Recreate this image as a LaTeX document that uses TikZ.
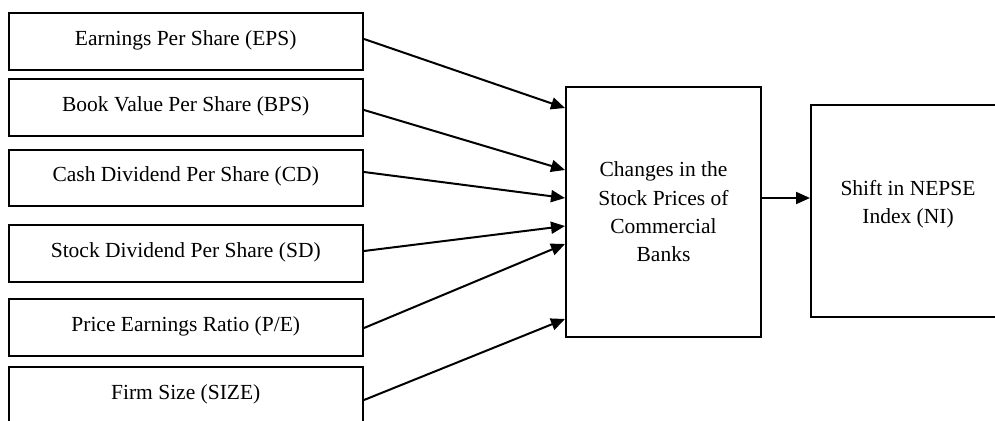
\documentclass[tikz,border=0pt]{standalone}
\usepackage{fontspec}
\setmainfont{Liberation Serif}
\usetikzlibrary{arrows.meta}
\newcommand{\liftup}[2]{\raisebox{#1}[\height][\depth]{#2}}
\begin{document}
\begin{tikzpicture}[x=1pt,y=-1pt,
  every node/.style={font=\fontsize{21.5}{28.3}\selectfont, inner sep=0pt},
  leftbox/.style={draw, line width=2pt, minimum width=354.5pt, minimum height=57pt},
  bigbox/.style={draw, line width=2pt, align=center},
  conn/.style={line width=2pt, -{Triangle[length=14pt,width=12pt]}}]
\useasboundingbox (0,0) rectangle (995,420);
\node[leftbox] (b1) at (185.75,41.5) {\liftup{1.5pt}{Earnings Per Share (EPS)}};
\node[leftbox] (b2) at (185.75,107.5) {\liftup{1.5pt}{Book Value Per Share (BPS)}};
\node[leftbox, minimum height=56pt] (b3) at (185.75,178) {\liftup{1.5pt}{Cash Dividend Per Share (CD)}};
\node[leftbox] (b4) at (185.75,253.5) {\liftup{1.5pt}{Stock Dividend Per Share (SD)}};
\node[leftbox] (b5) at (185.75,327.5) {\liftup{1.5pt}{Price Earnings Ratio (P/E)}};
\node[leftbox] (b6) at (185.75,395.5) {\liftup{1.5pt}{Firm Size (SIZE)}};
\node[bigbox, minimum width=195pt, minimum height=250pt] (mid) at (663.5,212)
  {Changes in the\\Stock Prices of\\Commercial\\Banks};
\node[bigbox, minimum width=194pt, minimum height=212pt] (ni) at (908,211)
  {\liftup{7pt}{\begin{tabular}{@{}c@{}}Shift in NEPSE\\Index (NI)\end{tabular}}};
\draw[conn] ([yshift=2.5pt]b1.east) -- ([yshift=104pt]mid.west);
\draw[conn] ([yshift=-2.5pt]b2.east) -- ([yshift=42pt]mid.west);
\draw[conn] ([yshift=6pt]b3.east) -- ([yshift=14pt]mid.west);
\draw[conn] ([yshift=2.5pt]b4.east) -- ([yshift=-14pt]mid.west);
\draw[conn] ([yshift=-0.5pt]b5.east) -- ([yshift=-32pt]mid.west);
\draw[conn] ([yshift=-4.5pt]b6.east) -- ([yshift=-107pt]mid.west);
\draw[conn] ([yshift=14pt]mid.east) -- ([yshift=14pt]mid.east -| ni.west);
\end{tikzpicture}
\end{document}
